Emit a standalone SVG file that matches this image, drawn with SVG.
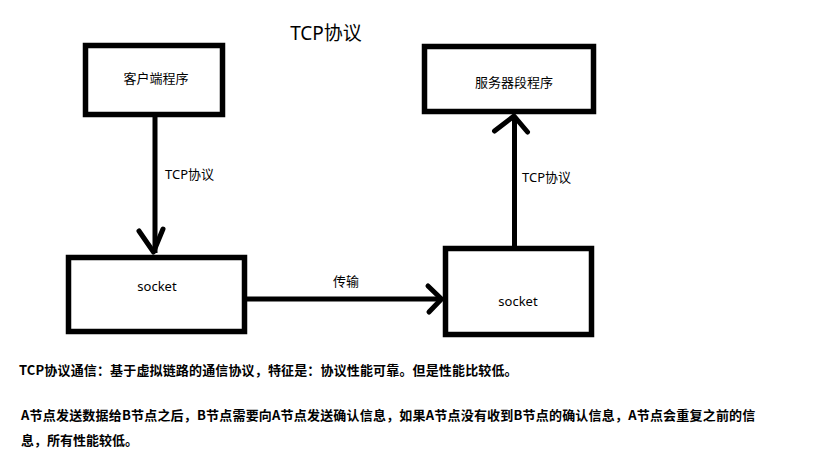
<svg xmlns="http://www.w3.org/2000/svg" width="819" height="460" viewBox="0 0 819 460">
<style>
.box{fill:#fff;stroke:#000;stroke-width:5.5}
.ln{fill:none;stroke:#000;stroke-width:5}
.hd{fill:none;stroke:#000;stroke-width:5;stroke-linecap:round;stroke-linejoin:round}
.t{font-family:"Noto Sans","Noto Sans CJK SC",sans-serif;font-size:13px;fill:#000}
.b{font-family:"Noto Sans CJK SC","Noto Sans",sans-serif;font-size:13px;font-weight:bold;fill:#000}
</style>
<rect width="819" height="460" fill="#fff"/>
<text class="t" x="326" y="40" text-anchor="middle" style="font-size:19px">TCP协议</text>
<g id="client">
<rect class="box" x="85.5" y="45.5" width="137" height="69"/>
<text class="t" x="156" y="83" text-anchor="middle">客户端程序</text>
</g>
<g id="server">
<rect class="box" x="424.5" y="46.5" width="169" height="65"/>
<text class="t" x="514" y="87" text-anchor="middle">服务器段程序</text>
</g>
<g id="socket1">
<rect class="box" x="68.5" y="257.5" width="176" height="74"/>
<text class="t" x="157" y="291" text-anchor="middle">socket</text>
</g>
<g id="socket2">
<rect class="box" x="445.5" y="248.5" width="146" height="86"/>
<text class="t" x="518" y="306" text-anchor="middle">socket</text>
</g>
<g id="connectors">
<line class="ln" x1="155" y1="117" x2="155" y2="253"/>
<polyline class="hd" points="139,231 153.5,252 163,229"/>
<text class="t" x="165" y="179">TCP协议</text>
<line class="ln" x1="247" y1="299" x2="441" y2="299"/>
<polyline class="hd" points="428,286 441.5,299 429,312"/>
<text class="t" x="333" y="286">传输</text>
<line class="ln" x1="514.5" y1="246" x2="514.5" y2="116"/>
<polyline class="hd" points="494.5,131 514,116 527.5,132"/>
<text class="t" x="522" y="182">TCP协议</text>
</g>
<text class="b" x="19" y="375" letter-spacing="0.15">TCP协议通信：基于虚拟链路的通信协议，特征是：协议性能可靠。但是性能比较低。</text>
<text class="b" x="21" y="420" letter-spacing="0.2">A节点发送数据给B节点之后，B节点需要向A节点发送确认信息，如果A节点没有收到B节点的确认信息，A节点会重复之前的信</text>
<text class="b" x="21" y="445">息，所有性能较低。</text>
</svg>
